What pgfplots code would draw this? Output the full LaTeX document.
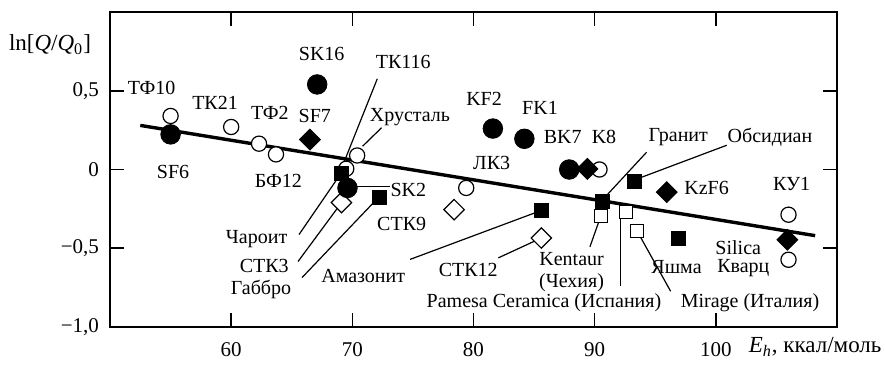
\documentclass[border=0pt]{standalone}
\usepackage{fontspec}
\setmainfont{Liberation Serif}
\usepackage{pgfplots}
\pgfplotsset{compat=1.18}
\begin{document}
\begin{tikzpicture}[
  lbl/.style={font=\fontsize{10}{12}\selectfont, inner sep=0pt},
  ldr/.style={line width=0.6pt},
]
\path[use as bounding box] (-55pt,-19pt) rectangle (387.5pt,163.5pt);
\begin{axis}[
  at={(0,0)}, anchor=south west,
  scale only axis, width=363.5pt, height=157.5pt,
  xmin=50, xmax=110, ymin=-1, ymax=1,
  xtick={60,70,80,90,100}, ytick={-1,-0.5,0,0.5},
  xticklabels={60,70,80,90,100},
  yticklabels={{−1,0},{−0,5},{0},{0,5}},
  tick align=inside, tick pos=both,
  xticklabel pos=bottom, yticklabel pos=left,
  major tick length=7pt,
  every tick/.style={black, line width=0.8pt},
  axis line style={line width=0.8pt},
  ticklabel style={font=\fontsize{10.5}{12}\selectfont},
  yticklabel style={xshift=-2pt},
  xticklabel style={yshift=-4pt},
  clip=false,
]
% trend line
\addplot[line width=1.7pt, no marks] coordinates {(52.5,0.28) (108.2,-0.42)};
% leader lines
\draw[ldr] (axis cs:72.06,0.576) -- (axis cs:69.3,0.044);
\draw[ldr] (axis cs:72.41,0.265) -- (axis cs:70.85,0.148);
\draw[ldr] (axis cs:94.29,0.11) -- (axis cs:90.8,-0.18);
\draw[ldr] (axis cs:100.9,0.154) -- (axis cs:93.5,-0.06);
\draw[ldr] (axis cs:69.8,-0.11) -- (axis cs:73.1,-0.11);
\draw[ldr] (axis cs:65.6,-0.413) -- (axis cs:69.06,-0.025);
\draw[ldr] (axis cs:65.52,-0.584) -- (axis cs:69.1,-0.211);
\draw[ldr] (axis cs:65.85,-0.686) -- (axis cs:72.2,-0.174);
\draw[ldr] (axis cs:74.76,-0.571) -- (axis cs:85.6,-0.26);
\draw[ldr] (axis cs:82.05,-0.561) -- (axis cs:85.6,-0.435);
\draw[ldr] (axis cs:89.61,-0.491) -- (axis cs:90.5,-0.297);
\draw[ldr] (axis cs:92.14,-0.741) -- (axis cs:92.14,-0.229) -- (axis cs:92.6,-0.229);
\draw[ldr] (axis cs:96.27,-0.773) -- (axis cs:93.5,-0.39);
% open circles
\addplot[only marks, mark=*, mark size=3.8pt, mark options={fill=white, draw=black, line width=0.6pt}]
 coordinates {(55.0,0.34) (60.0,0.27) (62.3,0.164) (63.7,0.096) (70.4,0.089) (69.5,0.005) (79.4,-0.117) (90.4,0.0) (106.0,-0.287) (106.0,-0.573)};
% open diamonds
\addplot[only marks, mark=square*, mark size=3.6pt, mark options={rotate=45, fill=white, draw=black, line width=0.6pt}]
 coordinates {(69.1,-0.21) (78.4,-0.255) (85.6,-0.435)};
% open squares
\addplot[only marks, mark=square*, mark size=3.3pt, mark options={fill=white, draw=black, line width=0.6pt}]
 coordinates {(90.5,-0.297) (92.6,-0.27) (93.5,-0.39)};
% filled squares
\addplot[only marks, mark=square*, mark size=3.5pt, mark options={fill=black, draw=black}]
 coordinates {(69.1,-0.025) (72.2,-0.174) (85.6,-0.26) (90.6,-0.2) (93.3,-0.074) (96.9,-0.435)};
% filled diamonds
\addplot[only marks, mark=square*, mark size=3.7pt, mark options={rotate=45, fill=black, draw=black}]
 coordinates {(66.5,0.19) (89.4,0.004) (95.95,-0.144) (105.9,-0.446)};
% filled circles
\addplot[only marks, mark=*, mark size=4.9pt, mark options={fill=black, draw=black}]
 coordinates {(55.0,0.223) (67.1,0.54) (69.6,-0.117) (81.6,0.26) (84.2,0.195) (87.9,0.0)};
% labels
\node[lbl] at (axis cs:53.43,0.521) {ТФ10};
\node[lbl] at (axis cs:55.2,-0.013) {SF6};
\node[lbl] at (axis cs:58.67,0.425) {ТК21};
\node[lbl] at (axis cs:63.2,0.362) {ТФ2};
\node[lbl] at (axis cs:63.9,-0.07) {БФ12};
\node[lbl] at (axis cs:66.9,0.338) {SF7};
\node[lbl] at (axis cs:67.47,0.735) {SK16};
\node[lbl] at (axis cs:74.2,0.681) {ТК116};
\node[lbl] at (axis cs:74.76,0.335) {Хрусталь};
\node[lbl] at (axis cs:80.87,0.451) {KF2};
\node[lbl] at (axis cs:85.49,0.392) {FK1};
\node[lbl] at (axis cs:87.36,0.208) {BK7};
\node[lbl] at (axis cs:90.77,0.205) {K8};
\node[lbl] at (axis cs:96.9,0.205) {Гранит};
\node[lbl] at (axis cs:104.47,0.205) {Обсидиан};
\node[lbl] at (axis cs:99.24,-0.116) {KzF6};
\node[lbl] at (axis cs:106.26,-0.095) {КУ1};
\node[lbl] at (axis cs:81.5,0.043) {ЛК3};
\node[lbl] at (axis cs:74.62,-0.127) {SK2};
\node[lbl] at (axis cs:74.07,-0.349) {СТК9};
\node[lbl] at (axis cs:62.1,-0.444) {Чароит};
\node[lbl] at (axis cs:62.73,-0.61) {СТК3};
\node[lbl] at (axis cs:62.46,-0.762) {Габбро};
\node[lbl] at (axis cs:70.9,-0.677) {Амазонит};
\node[lbl] at (axis cs:79.57,-0.635) {СТК12};
\node[lbl] at (axis cs:88.1,-0.571) {Kentaur};
\node[lbl] at (axis cs:88.1,-0.719) {(Чехия)};
\node[lbl] at (axis cs:85.82,-0.846) {Pamesa Ceramica (Испания)};
\node[lbl] at (axis cs:102.82,-0.846) {Mirage (Италия)};
\node[lbl] at (axis cs:96.76,-0.618) {Яшма};
\node[lbl] at (axis cs:101.85,-0.497) {Silica};
\node[lbl] at (axis cs:102.27,-0.624) {Кварц};
% axis labels
\node[font=\fontsize{11.5}{13}\selectfont, inner sep=0pt] at (axis cs:45.05,0.794) {ln[\textit{Q}/\textit{Q}\textsubscript{0}]};
\node[font=\fontsize{11.5}{13}\selectfont, inner sep=0pt, anchor=base east] at (axis cs:113.7,-1.162) {\textit{E}\textsubscript{\textit{h}}, ккал/моль};
\end{axis}
\end{tikzpicture}
\end{document}
